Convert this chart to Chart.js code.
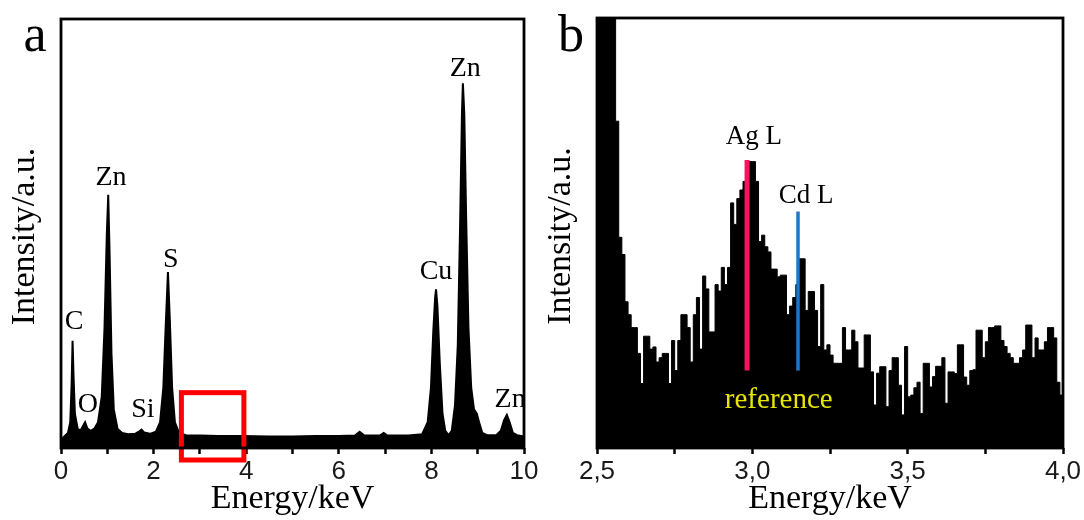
<!DOCTYPE html>
<html>
<head>
<meta charset="utf-8">
<script src="https://cdn.jsdelivr.net/npm/chart.js@4.4.1/dist/chart.umd.min.js"></script>
<style>
body{margin:0;background:#fff;}
#wrap{position:relative;width:1084px;height:520px;background:#fff;}
canvas{position:absolute;top:0;}
</style>
</head>
<body>
<div id="wrap">
<canvas id="chartA" width="542" height="520" style="left:0"></canvas>
<canvas id="chartB" width="542" height="520" style="left:542px"></canvas>
</div>
<script>
// panel a : full spectrum outline (keV, intensity)
const aEnergy = [0.00,0.05,0.15,0.20,0.23,0.25,0.27,0.30,0.36,0.42,0.47,0.52,0.57,0.64,0.72,0.80,0.88,0.94,0.99,1.02,1.05,1.09,1.14,1.22,1.32,1.45,1.60,1.68,1.74,1.80,1.92,2.05,2.14,2.21,2.26,2.31,2.35,2.40,2.46,2.55,2.70,3.00,3.40,3.90,4.50,5.00,5.50,6.00,6.35,6.45,6.55,6.90,6.97,7.05,7.50,7.80,7.92,7.99,8.04,8.08,8.10,8.13,8.18,8.24,8.30,8.37,8.44,8.51,8.57,8.62,8.66,8.68,8.71,8.75,8.80,8.86,8.92,8.98,9.03,9.10,9.20,9.40,9.50,9.57,9.63,9.69,9.76,9.85,10.00];
const aCounts = [1.5,2.5,3.5,6,15,25,17,8,4.5,4,5,6,4.5,4,4.5,6,12,28,50,59,45,22,9,4.5,3.5,3.2,3.3,3.8,4.3,3.6,3.3,3.8,6,14,28,41,30,14,6,3.5,3.0,2.9,2.8,2.8,2.7,2.7,2.8,2.8,2.9,3.8,2.9,3.0,3.5,2.9,2.9,3.2,6,14,27,35,37,33,20,8,4,3,4,10,24,52,78,85,78,54,28,14,9,8,6,3.5,3.0,3.0,4,6.5,7.7,6,3.5,3.0,2.7];
const aTicks = [0,2,4,6,8,10];
const aPeakText = ['C','O','Zn','Si','S','Cu','Zn','Zn'];
const aPeakE = [0.28,0.58,1.08,1.77,2.37,8.10,8.73,9.70];
const aPeakY = [29.4,10,63,8.9,44,41,88.5,11.2];
const zoomBox = [2.6,3.95,12.9];   // keV from, keV to, top intensity

// panel b : 2.5-4.0 keV, 0.01 keV channels
const binStart = 2.5;
const binWidth = 0.01;
const bCounts = [120,120,120,120,120,120,76,49,45,34,
  31,28,28,22,15,26,26,23,23.5,20,
  21,22,22,15,25,18,25,31,31,28,
  20,31,35,23,40,37,27,27,38,36.5,
  42,38,42,57,52,58,60,62,64,66.6,
  66.6,62,48,49.5,46.8,45.6,41.6,41.6,39.8,40.2,
  40.2,31,33,35,38,44,44,32,36.4,36.4,
  32,23.6,38,22.8,24,21.6,19.7,19.7,19.7,28,
  22.8,22.8,27.4,24.7,18.6,18.6,26.3,26.3,17.7,10,
  17.4,18.9,18.9,9.6,18,21,21,14.6,7.7,23.6,
  11.9,12.3,14,15.3,8,19.7,19.7,14.2,16.6,19,
  19,21,10.4,17.7,17.7,17.3,24,24,16.5,14.6,
  18,18.2,27.4,27.4,21,24.7,28,28,28.4,28.4,
  25,23.6,22,21,19.7,19.7,21,22.8,28.6,28.6,
  21,25.6,22.8,22.8,24.7,28,28,25.6,15.3,12.3];
const bTicks = [2.5,3.0,3.5,4.0];
const refLineName = ['Ag L','Cd L'];
const refLineE = [2.983,3.147];
const refLineTop = [67,55];
const refLineBottom = [18,18];
const refLineColor = ['#f5145f','#1f77c4'];

const serif = '"Liberation Serif", "Times New Roman", serif';
const sans = '"Liberation Sans", Arial, sans-serif';

function decorations(cfg){
    return {
        id:'decorations',
        afterDatasetsDraw(chart){
            const ctx = chart.ctx;
            const xs = chart.scales.x, ys = chart.scales.y;
            const area = chart.chartArea;
            ctx.save();
            (cfg.lines||[]).forEach(l => {
                const px = xs.getPixelForValue(l.x);
                ctx.strokeStyle = l.color;
                ctx.lineWidth = l.width;
                ctx.beginPath();
                ctx.moveTo(px, ys.getPixelForValue(l.y0));
                ctx.lineTo(px, ys.getPixelForValue(l.y1));
                ctx.stroke();
            });
            if (cfg.box){
                const x0 = xs.getPixelForValue(cfg.box[0]);
                const x1 = xs.getPixelForValue(cfg.box[1]);
                const y0 = ys.getPixelForValue(cfg.box[2]);
                const y1 = area.bottom + 12;
                ctx.strokeStyle = '#ff0000';
                ctx.lineWidth = 5;
                ctx.strokeRect(x0, y0, x1 - x0, y1 - y0);
            }
            ctx.textAlign = 'center';
            ctx.textBaseline = 'middle';
            (cfg.labels||[]).forEach(t => {
                ctx.fillStyle = t.color || '#000';
                ctx.font = t.font;
                ctx.fillText(t.text, xs.getPixelForValue(t.x), ys.getPixelForValue(t.y));
            });
            ctx.restore();
        },
        afterDraw(chart){
            const ctx = chart.ctx;
            const area = chart.chartArea;
            ctx.save();
            ctx.strokeStyle = '#000';
            ctx.lineWidth = 2.8;
            ctx.strokeRect(area.left, area.top, area.right - area.left, area.bottom - area.top);
            ctx.fillStyle = '#000';
            ctx.font = '34px ' + serif;
            ctx.textAlign = 'center';
            ctx.textBaseline = 'alphabetic';
            ctx.fillText('Energy/keV', (area.left + area.right) / 2, area.bottom + 60);
            ctx.translate(area.left - 36, (area.top + area.bottom) / 2 + 3);
            ctx.rotate(-Math.PI / 2);
            ctx.textBaseline = 'middle';
            ctx.fillText('Intensity/a.u.', 0, 0);
            ctx.restore();
            ctx.save();
            ctx.fillStyle = '#000';
            ctx.font = '52px ' + serif;
            ctx.textAlign = 'center';
            ctx.fillText(cfg.letter, area.left - 26, 51);
            ctx.restore();
        }
    };
}

function xAxis(min, max, step, majors, fmt, yWidth){
    return {
        x: {
            type:'linear', min:min, max:max,
            afterFit: s => { s.height = 72; },
            grid: {display:true, drawOnChartArea:false, drawTicks:true, tickLength:6, tickWidth:2.5, tickColor:'#000'},
            border: {display:false},
            ticks: {
                stepSize:step, autoSkip:false, maxRotation:0, padding:2,
                color:'#1a1a1a', font:{family:sans, size:26},
                callback: v => majors.some(m => Math.abs(m - v) < 1e-6) ? fmt(v) : ''
            }
        },
        y: {
            min:0, max:100,
            afterFit: s => { s.width = yWidth; },
            grid: {display:false}, border: {display:false},
            ticks: {display:false}
        }
    };
}

// panel a
const aPoints = aEnergy.map((e, i) => ({x:e, y:aCounts[i]}));
new Chart(document.getElementById('chartA').getContext('2d'), {
    type:'line',
    data: {datasets: [{
        data:aPoints, borderColor:'#000', backgroundColor:'#000',
        borderWidth:2, fill:'origin', pointRadius:0, tension:0
    }]},
    options: {
        responsive:false, animation:false, devicePixelRatio:1,
        layout: {padding:{top:19, right:18, left:0, bottom:0}},
        plugins: {legend:{display:false}, tooltip:{enabled:false}},
        scales: xAxis(0, 10, 1, aTicks, v => String(v), 61)
    },
    plugins: [decorations({
        letter:'a',
        box:zoomBox,
        labels: aPeakText.map((t, i) => ({text:t, x:aPeakE[i], y:aPeakY[i], font:'28px ' + serif}))
    })]
});

// panel b
const bPoints = bCounts.map((c, i) => ({x:binStart + i * binWidth, y:c}));
bPoints.push({x:binStart + bCounts.length * binWidth, y:bCounts[bCounts.length - 1]});
new Chart(document.getElementById('chartB').getContext('2d'), {
    type:'line',
    data: {datasets: [{
        data:bPoints, borderColor:'#000', backgroundColor:'#000',
        borderWidth:1, fill:'origin', pointRadius:0, stepped:true
    }]},
    options: {
        responsive:false, animation:false, devicePixelRatio:1,
        layout: {padding:{top:18, right:21, left:0, bottom:0}},
        plugins: {legend:{display:false}, tooltip:{enabled:false}},
        scales: xAxis(2.5, 4.0, 0.25, bTicks, v => v.toFixed(1).replace('.', ','), 55)
    },
    plugins: [decorations({
        letter:'b',
        lines: refLineE.map((e, i) => ({x:e, y0:refLineBottom[i], y1:refLineTop[i], color:refLineColor[i], width:i === 0 ? 5 : 3.5})),
        labels: [
            {text:refLineName[0], x:3.005, y:72.3, font:'27px ' + serif},
            {text:refLineName[1], x:3.173, y:58.6, font:'27px ' + serif},
            {text:'reference', x:3.085, y:11, font:'29px ' + serif, color:'#e6e600'}
        ]
    })]
});
</script>
</body>
</html>
